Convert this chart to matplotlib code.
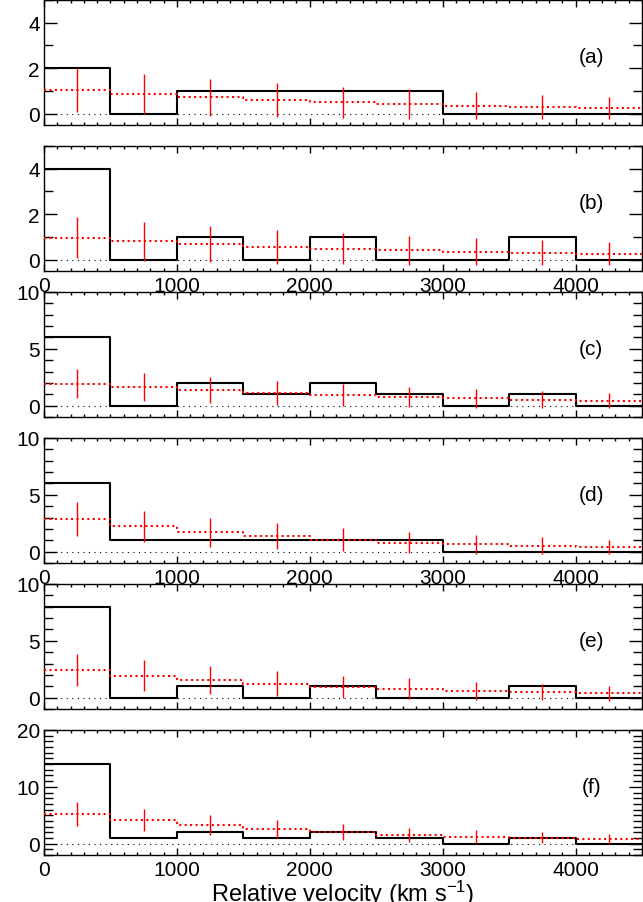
import numpy as np
import matplotlib
matplotlib.use('Agg')
import matplotlib.pyplot as plt
from matplotlib.ticker import MultipleLocator

plt.rcParams['font.family'] = ['Liberation Sans', 'DejaVu Sans']
plt.rcParams['mathtext.default'] = 'regular'

# ---- data ----
bin_edges = [0, 500, 1000, 1500, 2000, 2500, 3000, 3500, 4000, 4500]
bin_centers = [250, 750, 1250, 1750, 2250, 2750, 3250, 3750, 4250]
panel_labels = ['(a)', '(b)', '(c)', '(d)', '(e)', '(f)']

obs_a = [2, 0, 1, 1, 1, 1, 0, 0, 0]
obs_b = [4, 0, 1, 0, 1, 0, 0, 1, 0]
obs_c = [6, 0, 2, 1, 2, 1, 0, 1, 0]
obs_d = [6, 1, 1, 1, 1, 1, 0, 0, 0]
obs_e = [8, 0, 1, 0, 1, 0, 0, 1, 0]
obs_f = [14, 1, 2, 1, 2, 1, 0, 1, 0]

exp_a = [1.04, 0.85, 0.72, 0.61, 0.50, 0.42, 0.35, 0.29, 0.25]
exp_b = [0.97, 0.80, 0.68, 0.57, 0.48, 0.41, 0.35, 0.31, 0.26]
exp_c = [1.94, 1.62, 1.35, 1.12, 0.94, 0.77, 0.65, 0.53, 0.44]
exp_d = [2.87, 2.22, 1.72, 1.36, 1.06, 0.80, 0.65, 0.53, 0.41]
exp_e = [2.47, 1.94, 1.56, 1.24, 0.95, 0.79, 0.62, 0.47, 0.38]
exp_f = [5.24, 4.18, 3.24, 2.59, 2.05, 1.53, 1.24, 1.06, 0.82]

err_a = [0.96, 0.88, 0.82, 0.76, 0.69, 0.66, 0.60, 0.54, 0.49]
err_b = [0.90, 0.86, 0.79, 0.75, 0.69, 0.64, 0.59, 0.54, 0.50]
err_c = [1.30, 1.23, 1.15, 1.08, 1.00, 0.90, 0.85, 0.78, 0.69]
err_d = [1.52, 1.40, 1.28, 1.15, 1.02, 0.90, 0.82, 0.74, 0.65]
err_e = [1.41, 1.33, 1.22, 1.12, 0.97, 0.90, 0.80, 0.72, 0.67]
err_f = [2.10, 1.94, 1.77, 1.60, 1.47, 1.29, 1.15, 1.03, 0.91]

ylims = [(-0.5, 5), (-0.5, 5), (-1, 10), (-1, 10), (-1, 10), (-2, 20)]
ymajor = [2, 2, 5, 5, 5, 10]
xtick_labels_on = [False, True, False, True, False, True]

obs_all = [obs_a, obs_b, obs_c, obs_d, obs_e, obs_f]
exp_all = [exp_a, exp_b, exp_c, exp_d, exp_e, exp_f]
err_all = [err_a, err_b, err_c, err_d, err_e, err_f]

W, H = 643, 903
fig = plt.figure(figsize=(W / 100, H / 100), dpi=100)

left_px, right_px = 44, 642
tops_px = [1, 147, 293, 439, 585, 731]
h_px = 125

for i in range(6):
    top = tops_px[i]
    ax = fig.add_axes([left_px / W, 1 - (top + h_px) / H,
                       (right_px - left_px) / W, h_px / H])
    edges = np.array(bin_edges)
    obs = np.array(obs_all[i])
    exp = np.array(exp_all[i])
    err = np.array(err_all[i])

    ax.plot([bin_edges[0], bin_edges[-1]], [0, 0], color='black', lw=0.8,
            linestyle=(0, (1, 4)), zorder=1)
    ax.step(edges, np.append(obs, obs[-1]), where='post', color='black', lw=1.5,
            zorder=2)
    ax.step(edges, np.append(exp, exp[-1]), where='post', color='red', lw=1.5,
            linestyle=(0, (1, 1.6)), zorder=3)
    ax.errorbar(bin_centers, exp, yerr=err, fmt='none', ecolor='red',
                elinewidth=1.0, capsize=0, zorder=4)

    ax.set_xlim(0, 4500)
    ax.set_ylim(*ylims[i])
    ax.xaxis.set_major_locator(MultipleLocator(1000))
    ax.xaxis.set_minor_locator(MultipleLocator(100))
    ax.yaxis.set_major_locator(MultipleLocator(ymajor[i]))
    ax.yaxis.set_minor_locator(MultipleLocator(1))
    ax.tick_params(axis='both', which='both', direction='in', top=True, right=True,
                   labelsize=15, width=1.0)
    ax.tick_params(axis='x', which='major', length=5, pad=3.5,
                   labelbottom=xtick_labels_on[i])
    ax.tick_params(axis='x', which='minor', length=2.5)
    ax.tick_params(axis='y', which='major', length=9.5, pad=3)
    ax.tick_params(axis='y', which='minor', length=6.5)
    for s in ax.spines.values():
        s.set_linewidth(1.0)
    ax.text(0.915, 0.55, panel_labels[i], transform=ax.transAxes,
            ha='center', va='center', fontsize=15)

fig.text((left_px + right_px) / 2 / W, 1 - 894 / H,
         'Relative velocity (km s$^{-1}$)', ha='center', va='center', fontsize=17)

fig.savefig('out.png', dpi=100)
